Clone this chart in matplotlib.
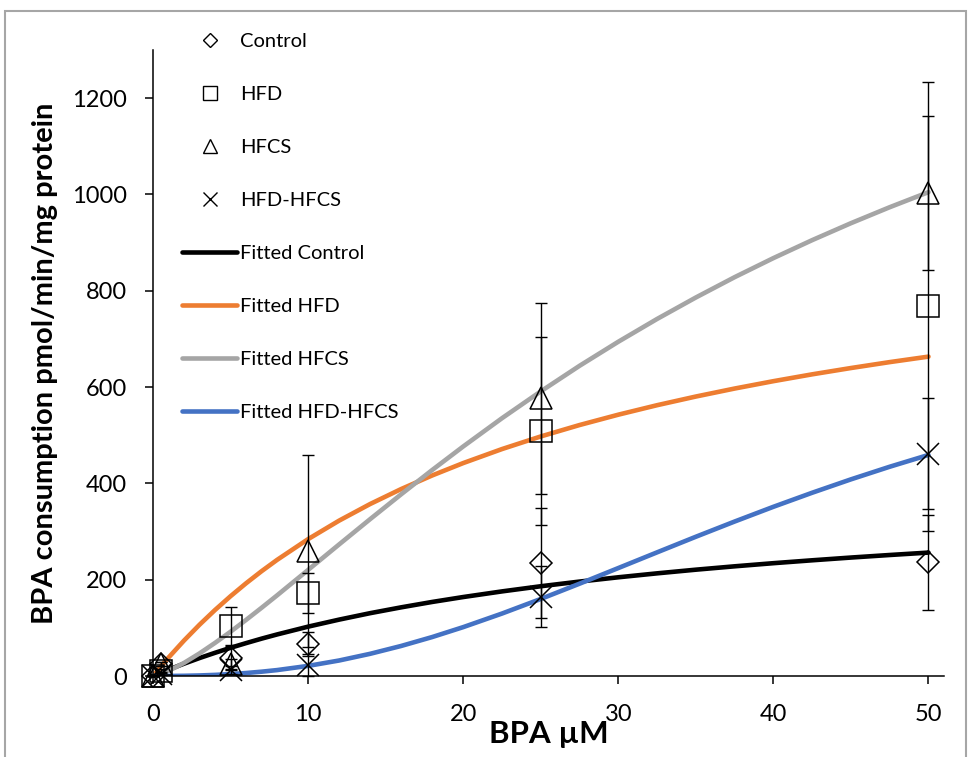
import matplotlib
matplotlib.use("Agg")
import matplotlib.pyplot as plt
from matplotlib.lines import Line2D
from matplotlib.patches import Rectangle

plt.rcParams['font.family'] = ['Lato', 'DejaVu Sans']

# ---- measured points (BPA uM vs consumption) ----
bpa = [0, 0.5, 5, 10, 25, 50]

control = [0, 25, 38, 66, 235, 236]
control_err = [0, 4, 25, 25, 114, 98]

hfd = [0, 10, 104, 172, 509, 768]
hfd_err = [0, 4, 40, 42, 196, 466]

hfcs = [0, 25, 25, 260, 577, 1003]
hfcs_err = [0, 4, 10, 199, 198, 160]

hfd_hfcs = [0, 5, 12, 23, 165, 462]
hfd_hfcs_err = [0, 3, 8, 23, 64, 116]

# ---- fitted curves ----
bpa_fit = [0, 0.5, 1, 2, 3, 4, 5, 6, 7, 8, 10, 12, 14, 16, 18, 20,
           22.5, 25, 27.5, 30, 32.5, 35, 37.5, 40, 42.5, 45, 47.5, 50]

fit_control = [0, 6.7, 13.2, 25.6, 37.3, 48.2, 58.6, 68.3, 77.6, 86.3,
               102.5, 117.1, 130.5, 142.6, 153.8, 164.0, 175.7, 186.4,
               196.1, 205.0, 213.2, 220.8, 227.8, 234.3, 240.3, 246.0,
               251.3, 256.3]

fit_hfd = [0, 19.5, 38.3, 73.7, 106.6, 137.2, 165.8, 192.6, 217.7, 241.2,
           284.3, 322.7, 357.2, 388.3, 416.5, 442.2, 471.3, 497.5, 521.2,
           542.7, 562.4, 580.4, 597.0, 612.3, 626.5, 639.6, 651.9, 663.3]

fit_hfcs = [0, 4.1, 10.6, 27.2, 47.0, 68.8, 92.0, 116.5, 141.7, 167.5,
            220.3, 273.3, 325.8, 377.4, 427.8, 476.7, 535.4, 591.1, 644.2,
            694.2, 741.5, 786.1, 828.3, 867.9, 905.2, 940.4, 973.6, 1004.9]

fit_hfd_hfcs = [0, 0.02, 0.08, 0.43, 1.15, 2.32, 3.98, 6.19, 8.97, 12.3,
                21.0, 32.2, 46.1, 62.4, 80.9, 101.5, 129.7, 160.0, 191.7,
                224.2, 256.8, 289.2, 320.8, 351.4, 380.6, 408.4, 434.6, 459.1]

groups = ['Control', 'HFD', 'HFCS', 'HFD-HFCS']
markers = ['D', 's', '^', 'x']
marker_sizes = [11, 15.5, 15.5, 15.5]
legend_marker_sizes = [7, 10, 10, 10]
means = [control, hfd, hfcs, hfd_hfcs]
errors = [control_err, hfd_err, hfcs_err, hfd_hfcs_err]
fits = [fit_control, fit_hfd, fit_hfcs, fit_hfd_hfcs]
colors = ['#000000', '#ED7D31', '#A5A5A5', '#4472C4']

fig = plt.figure(figsize=(9.71, 7.57), dpi=100)
ax = fig.add_axes([0.1576, 0.1070, 0.8146, 0.8269])

for fit, c in zip(fits, colors):
    ax.plot(bpa_fit, fit, color=c, lw=3.3, solid_capstyle='round', zorder=2)

for y, e, m, ms in zip(means, errors, markers, marker_sizes):
    ax.errorbar(bpa, y, yerr=e, fmt='none', ecolor='black', elinewidth=1,
                capsize=4, capthick=1, zorder=3, clip_on=False)
    ax.plot(bpa, y, linestyle='none', marker=m, ms=ms, mfc='none',
            mec='black', mew=1.1, zorder=4, clip_on=False)

ax.set_xlim(0, 51)
ax.set_ylim(0, 1300)
ax.set_xticks([0, 10, 20, 30, 40, 50])
ax.set_yticks([0, 200, 400, 600, 800, 1000, 1200])
for s in ['top', 'right']:
    ax.spines[s].set_visible(False)
for s in ['left', 'bottom']:
    ax.spines[s].set_linewidth(1.1)
ax.tick_params(direction='out', length=5.8, width=1.1, labelsize=17)
ax.tick_params(axis='y', pad=13)
ax.tick_params(axis='x', pad=14)

ax.set_xlabel('BPA µM', fontsize=22.5, fontweight='bold', labelpad=-3)
ax.set_ylabel('BPA consumption pmol/min/mg protein', fontsize=21,
              fontweight='bold', labelpad=10)

# legend: open markers first, then the fitted lines
handles = []
for m, ms in zip(markers, legend_marker_sizes):
    handles.append(Line2D([], [], linestyle='none', marker=m, ms=ms,
                          mfc='none', mec='black', mew=1))
for c in colors:
    handles.append(Line2D([], [], color=c, lw=3.3, solid_capstyle='round'))
labels = groups + ['Fitted ' + g for g in groups]
fig.legend(handles, labels, loc='upper left', bbox_to_anchor=(182 / 971, 1 - 33 / 757),
           frameon=False, fontsize=14.5, handlelength=2.75, handletextpad=0.15,
           labelspacing=1.78, borderaxespad=0, borderpad=0)

# chart area outline
fig.patches.append(Rectangle((5 / 971, -0.05), 961 / 971, 1.05 - 11 / 757,
                             transform=fig.transFigure, fill=False,
                             ec='#A6A6A6', lw=1.5))

fig.savefig('out.png', dpi=100)
